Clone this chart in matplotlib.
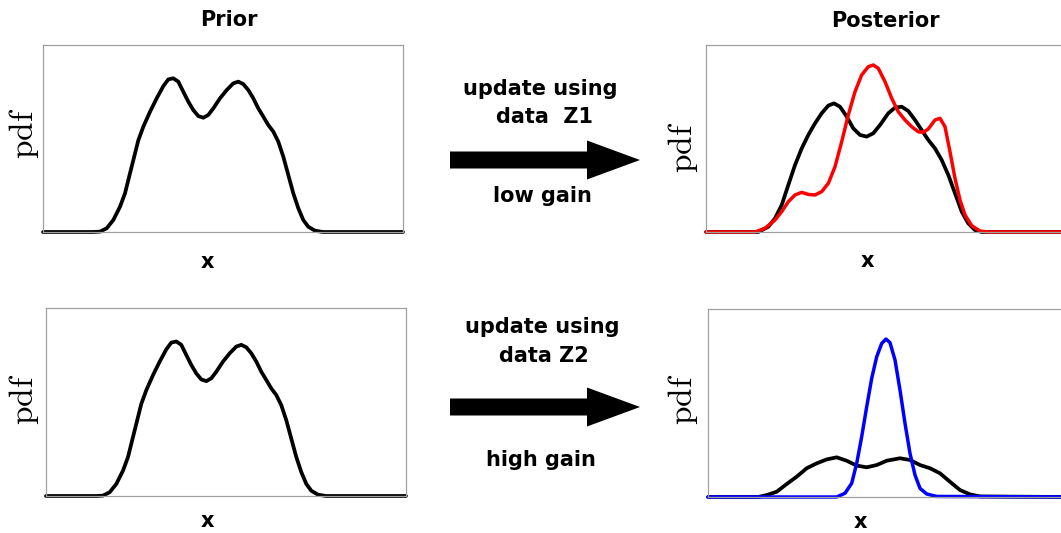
import matplotlib.pyplot as plt
from matplotlib.patches import FancyArrow

plt.rcParams.update({
    "font.family": "DejaVu Sans",
    "font.weight": "bold",
    "font.size": 15,
    "mathtext.fontset": "cm",
})

W, H = 1061, 533

# prior pdf (same in both rows)
prior_x = [0, 50, 57, 63.7, 70.3, 77, 82, 87, 92, 95.3, 100.3, 107, 113.7, 120.3, 125.3,
           130.3, 135.3, 140.3, 145.3, 150.3, 155.3, 160.3, 165.3, 170.3, 177, 183.7,
           190.3, 195.3, 200.3, 205.3, 210.3, 215.3, 220.3, 225.3, 230.3, 235.3, 240.3,
           245.3, 250.3, 255.3, 260.3, 265.3, 272, 280, 360]
prior_y = [0, 0, 0.002, 0.02, 0.064, 0.135, 0.207, 0.314, 0.42, 0.49, 0.563, 0.643,
           0.715, 0.78, 0.816, 0.822, 0.804, 0.75, 0.697, 0.652, 0.62, 0.611, 0.626,
           0.661, 0.715, 0.759, 0.795, 0.804, 0.791, 0.759, 0.715, 0.661, 0.617, 0.572,
           0.537, 0.483, 0.403, 0.305, 0.207, 0.127, 0.064, 0.028, 0.007, 0, 0]

# posterior, low gain
low_prior_x = [0, 52.3, 62.3, 69, 75.7, 82.3, 89, 95.7, 102.3, 109, 115.7, 122.3, 128,
               134, 140.7, 147.3, 154, 160.7, 167.3, 174, 182.3, 189, 195.7, 202.3, 209,
               215.7, 222.3, 229, 235.7, 242.3, 249, 255.7, 262.3, 269, 275.7, 360]
low_prior_y = [0, 0, 0.028, 0.073, 0.144, 0.251, 0.358, 0.447, 0.519, 0.581, 0.635,
               0.676, 0.688, 0.67, 0.617, 0.554, 0.519, 0.51, 0.528, 0.572, 0.635, 0.665,
               0.67, 0.647, 0.599, 0.545, 0.492, 0.447, 0.385, 0.305, 0.207, 0.109,
               0.046, 0.01, 0, 0]
low_post_x = [0, 49, 59, 69, 75.7, 82.3, 89, 95.7, 102.3, 109, 115.7, 122.3, 129, 135.7,
              142.3, 149, 155.7, 162.3, 167.3, 172.3, 179, 185.7, 192.3, 199, 205.7,
              212.3, 217.3, 222.3, 229, 234, 239, 244, 249, 254, 259, 265.7, 274, 282.3,
              360]
low_post_y = [0, 0, 0.02, 0.064, 0.109, 0.162, 0.198, 0.212, 0.201, 0.198, 0.216, 0.26,
              0.349, 0.483, 0.626, 0.75, 0.84, 0.884, 0.893, 0.875, 0.804, 0.715, 0.643,
              0.599, 0.563, 0.536, 0.533, 0.551, 0.599, 0.608, 0.563, 0.429, 0.287,
              0.171, 0.091, 0.034, 0.005, 0, 0]

# posterior, high gain
high_prior_x = [0, 50, 58.7, 68.7, 78.7, 88.7, 98.7, 108.7, 118.7, 128.7, 138.7, 148.7,
                158.7, 168.7, 178.7, 192, 202, 212, 222, 232, 242, 252, 262, 272, 360]
high_prior_y = [0, 0, 0.01, 0.028, 0.069, 0.108, 0.153, 0.179, 0.2, 0.211, 0.193, 0.167,
                0.158, 0.17, 0.193, 0.206, 0.197, 0.17, 0.153, 0.126, 0.081, 0.037,
                0.014, 0.003, 0]
high_post_x = [0, 128.7, 137, 143.7, 148.7, 153.7, 158.7, 163.7, 168.7, 173.7, 178, 182,
               187, 192, 197, 202, 207, 212, 218.7, 228.7, 360]
high_post_y = [0, 0, 0.02, 0.073, 0.179, 0.321, 0.48, 0.631, 0.746, 0.817, 0.84, 0.821,
               0.729, 0.569, 0.392, 0.232, 0.117, 0.046, 0.016, 0.003, 0]

fig = plt.figure(figsize=(W / 100, H / 100), dpi=100)


def px_axes(left, top, width, height):
    ax = fig.add_axes([left / W, 1 - (top + height) / H, width / W, height / H])
    ax.set_xlim(0, 360)
    ax.set_ylim(0, 1)
    ax.set_xticks([])
    ax.set_yticks([])
    for s in ax.spines.values():
        s.set_color("#a0a0a0")
        s.set_linewidth(0.9)
    return ax


def ftext(x, y, s, **kw):
    fig.text(x / W, 1 - y / H, s, ha="center", **kw)


line = dict(solid_capstyle="round", solid_joinstyle="round", clip_on=False)

ax1 = px_axes(43, 45, 360, 187)
ax1.plot(prior_x, prior_y, color="black", lw=2.7, **line)
ax2 = px_axes(46, 308, 360, 188)
ax2.plot(prior_x, prior_y, color="black", lw=2.7, **line)

ax3 = px_axes(706, 45, 360, 187)
ax3.plot(low_prior_x, low_prior_y, color="black", lw=2.7, **line)
ax3.plot(low_post_x, low_post_y, color="red", lw=2.5, **line)

ax4 = px_axes(708, 309, 360, 188)
ax4.plot(high_prior_x, high_prior_y, color="black", lw=2.7, **line)
ax4.plot(high_post_x, high_post_y, color="blue", lw=2.5, **line)

ftext(229, 26, "Prior", va="baseline")
ftext(885, 27, "Posterior", va="baseline")

for x, y in [(207, 268), (207, 527), (867, 267), (860, 528)]:
    ftext(x, y, "x", va="baseline")

for x, y in [(24, 133), (24, 399), (683, 147), (683, 399)]:
    ftext(x, y, r"$\mathrm{pdf}$", va="center", rotation=90, fontsize=24)

ftext(540, 95, "update using", va="baseline")
ftext(544, 123, "data  Z1", va="baseline")
ftext(542, 202, "low gain", va="baseline")
ftext(542, 333, "update using", va="baseline")
ftext(544, 362, "data Z2", va="baseline")
ftext(541, 466, "high gain", va="baseline")

for yc in [160, 407]:
    fig.patches.append(FancyArrow(
        450 / W, 1 - yc / H, 190 / W, 0,
        width=17 / H, head_width=39 / H, head_length=53 / W,
        length_includes_head=True, transform=fig.transFigure,
        color="black", lw=0))

fig.savefig("out.png", dpi=100)
